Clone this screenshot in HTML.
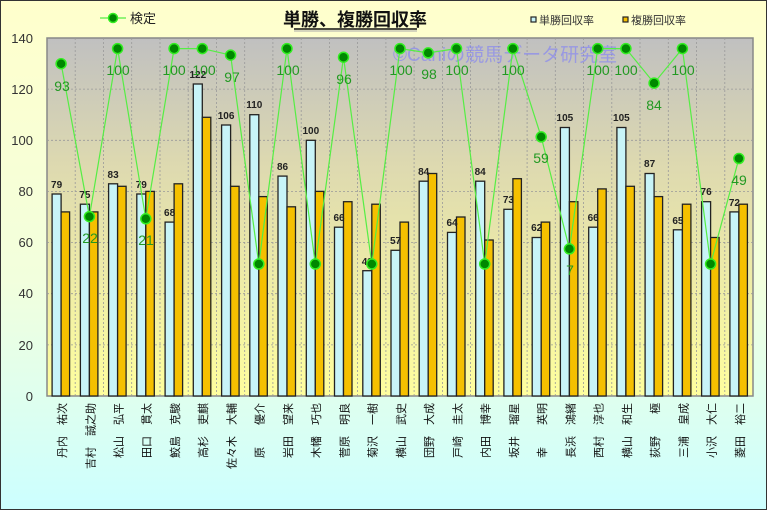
<!DOCTYPE html>
<html><head><meta charset="utf-8"><style>
html,body{margin:0;padding:0;width:767px;height:510px;overflow:hidden}
svg{display:block;font-family:"Liberation Sans","Noto Sans CJK JP",sans-serif}
</style></head><body>
<svg width="767" height="510" viewBox="0 0 767 510" xmlns="http://www.w3.org/2000/svg">
<defs>
<linearGradient id="bg" x1="0" y1="0" x2="0" y2="1"><stop offset="0" stop-color="#ffffcc"/><stop offset="0.55" stop-color="#f2ffdd"/><stop offset="1" stop-color="#ccffff"/></linearGradient>
<linearGradient id="pa" x1="0" y1="0" x2="0" y2="1"><stop offset="0" stop-color="#c0c0c0"/><stop offset="0.35" stop-color="#ddd9b0"/><stop offset="1" stop-color="#ffff9e"/></linearGradient>
</defs>
<rect x="0.5" y="0.5" width="766" height="509" fill="url(#bg)" stroke="#333" stroke-width="1"/>
<rect x="47" y="38" width="706" height="358" fill="url(#pa)" stroke="#888" stroke-width="1.5"/>
<g stroke="#999" stroke-width="0.8" stroke-dasharray="2,2">
<line x1="47" y1="89.1" x2="753" y2="89.1"/><line x1="47" y1="140.3" x2="753" y2="140.3"/><line x1="47" y1="191.4" x2="753" y2="191.4"/><line x1="47" y1="242.6" x2="753" y2="242.6"/><line x1="47" y1="293.7" x2="753" y2="293.7"/><line x1="47" y1="344.9" x2="753" y2="344.9"/>
<line x1="75.2" y1="38" x2="75.2" y2="396"/><line x1="103.5" y1="38" x2="103.5" y2="396"/><line x1="131.7" y1="38" x2="131.7" y2="396"/><line x1="160" y1="38" x2="160" y2="396"/><line x1="188.2" y1="38" x2="188.2" y2="396"/><line x1="216.4" y1="38" x2="216.4" y2="396"/><line x1="244.7" y1="38" x2="244.7" y2="396"/><line x1="272.9" y1="38" x2="272.9" y2="396"/><line x1="301.2" y1="38" x2="301.2" y2="396"/><line x1="329.4" y1="38" x2="329.4" y2="396"/><line x1="357.6" y1="38" x2="357.6" y2="396"/><line x1="385.9" y1="38" x2="385.9" y2="396"/><line x1="414.1" y1="38" x2="414.1" y2="396"/><line x1="442.4" y1="38" x2="442.4" y2="396"/><line x1="470.6" y1="38" x2="470.6" y2="396"/><line x1="498.8" y1="38" x2="498.8" y2="396"/><line x1="527.1" y1="38" x2="527.1" y2="396"/><line x1="555.3" y1="38" x2="555.3" y2="396"/><line x1="583.6" y1="38" x2="583.6" y2="396"/><line x1="611.8" y1="38" x2="611.8" y2="396"/><line x1="640" y1="38" x2="640" y2="396"/><line x1="668.3" y1="38" x2="668.3" y2="396"/><line x1="696.5" y1="38" x2="696.5" y2="396"/><line x1="724.8" y1="38" x2="724.8" y2="396"/>
</g>
<g font-size="13" fill="#333" text-anchor="end">
<text x="33" y="43">140</text><text x="33" y="94">120</text><text x="33" y="145">100</text><text x="33" y="196">80</text><text x="33" y="247">60</text><text x="33" y="298">40</text><text x="33" y="350">20</text><text x="33" y="401">0</text>
</g>
<text x="393" y="61" font-size="19" fill="#7777ff" fill-opacity="0.55">©Caniの競馬データ研究室</text>
<g stroke="#222" stroke-width="1.3" fill="#c8f4f8">
<rect x="52.1" y="194" width="9" height="202"/><rect x="80.4" y="204.2" width="9" height="191.8"/><rect x="108.6" y="183.8" width="9" height="212.2"/><rect x="136.8" y="194" width="9" height="202"/><rect x="165.1" y="222.1" width="9" height="173.9"/><rect x="193.3" y="84" width="9" height="312"/><rect x="221.6" y="125" width="9" height="271"/><rect x="249.8" y="114.7" width="9" height="281.3"/><rect x="278" y="176.1" width="9" height="219.9"/><rect x="306.3" y="140.3" width="9" height="255.7"/><rect x="334.5" y="227.2" width="9" height="168.8"/><rect x="362.8" y="270.7" width="9" height="125.3"/><rect x="391" y="250.3" width="9" height="145.7"/><rect x="419.2" y="181.2" width="9" height="214.8"/><rect x="447.5" y="232.4" width="9" height="163.6"/><rect x="475.7" y="181.2" width="9" height="214.8"/><rect x="503.9" y="209.3" width="9" height="186.7"/><rect x="532.2" y="237.5" width="9" height="158.5"/><rect x="560.4" y="127.5" width="9" height="268.5"/><rect x="588.7" y="227.2" width="9" height="168.8"/><rect x="616.9" y="127.5" width="9" height="268.5"/><rect x="645.1" y="173.5" width="9" height="222.5"/><rect x="673.4" y="229.8" width="9" height="166.2"/><rect x="701.6" y="201.7" width="9" height="194.3"/><rect x="729.9" y="211.9" width="9" height="184.1"/>
</g>
<g stroke="#222" stroke-width="1.3" fill="#f5c000">
<rect x="61.1" y="211.9" width="8.5" height="184.1"/><rect x="89.4" y="211.9" width="8.5" height="184.1"/><rect x="117.6" y="186.3" width="8.5" height="209.7"/><rect x="145.8" y="191.4" width="8.5" height="204.6"/><rect x="174.1" y="183.8" width="8.5" height="212.2"/><rect x="202.3" y="117.3" width="8.5" height="278.7"/><rect x="230.6" y="186.3" width="8.5" height="209.7"/><rect x="258.8" y="196.6" width="8.5" height="199.4"/><rect x="287" y="206.8" width="8.5" height="189.2"/><rect x="315.3" y="191.4" width="8.5" height="204.6"/><rect x="343.5" y="201.7" width="8.5" height="194.3"/><rect x="371.8" y="204.2" width="8.5" height="191.8"/><rect x="400" y="222.1" width="8.5" height="173.9"/><rect x="428.2" y="173.5" width="8.5" height="222.5"/><rect x="456.5" y="217" width="8.5" height="179"/><rect x="484.7" y="240" width="8.5" height="156"/><rect x="512.9" y="178.7" width="8.5" height="217.3"/><rect x="541.2" y="222.1" width="8.5" height="173.9"/><rect x="569.4" y="201.7" width="8.5" height="194.3"/><rect x="597.7" y="188.9" width="8.5" height="207.1"/><rect x="625.9" y="186.3" width="8.5" height="209.7"/><rect x="654.1" y="196.6" width="8.5" height="199.4"/><rect x="682.4" y="204.2" width="8.5" height="191.8"/><rect x="710.6" y="237.5" width="8.5" height="158.5"/><rect x="738.9" y="204.2" width="8.5" height="191.8"/>
</g>
<g font-size="10" font-weight="bold" fill="#222" text-anchor="middle">
<text x="56.6" y="188">79</text><text x="84.9" y="198">75</text><text x="113.1" y="178">83</text><text x="141.3" y="188">79</text><text x="169.6" y="216">68</text><text x="197.8" y="78">122</text><text x="226.1" y="119">106</text><text x="254.3" y="108">110</text><text x="282.5" y="170">86</text><text x="310.8" y="134">100</text><text x="339" y="221">66</text><text x="367.3" y="265">49</text><text x="395.5" y="244">57</text><text x="423.7" y="175">84</text><text x="452" y="226">64</text><text x="480.2" y="175">84</text><text x="508.4" y="203">73</text><text x="536.7" y="231">62</text><text x="564.9" y="121">105</text><text x="593.2" y="221">66</text><text x="621.4" y="121">105</text><text x="649.6" y="167">87</text><text x="677.9" y="224">65</text><text x="706.1" y="195">76</text><text x="734.4" y="206">72</text>
</g>
<polyline fill="none" stroke="#55ee44" stroke-width="1.2" points="61.1,63.7 89.4,216.6 117.6,48.6 145.8,218.8 174.1,48.6 202.3,48.6 230.6,55.1 258.8,264 287,48.6 315.3,264 343.5,57.2 371.8,264 400,48.6 428.2,52.9 456.5,48.6 484.7,264 512.9,48.6 541.2,136.9 569.4,248.9 597.7,48.6 625.9,48.6 654.1,83.1 682.4,48.6 710.6,264 738.9,158.5"/>
<g fill="#008800" stroke="#33ee22" stroke-width="1.5">
<circle cx="61.1" cy="63.7" r="5"/><circle cx="89.4" cy="216.6" r="5"/><circle cx="117.6" cy="48.6" r="5"/><circle cx="145.8" cy="218.8" r="5"/><circle cx="174.1" cy="48.6" r="5"/><circle cx="202.3" cy="48.6" r="5"/><circle cx="230.6" cy="55.1" r="5"/><circle cx="258.8" cy="264" r="5"/><circle cx="287" cy="48.6" r="5"/><circle cx="315.3" cy="264" r="5"/><circle cx="343.5" cy="57.2" r="5"/><circle cx="371.8" cy="264" r="5"/><circle cx="400" cy="48.6" r="5"/><circle cx="428.2" cy="52.9" r="5"/><circle cx="456.5" cy="48.6" r="5"/><circle cx="484.7" cy="264" r="5"/><circle cx="512.9" cy="48.6" r="5"/><circle cx="541.2" cy="136.9" r="5"/><circle cx="569.4" cy="248.9" r="5"/><circle cx="597.7" cy="48.6" r="5"/><circle cx="625.9" cy="48.6" r="5"/><circle cx="654.1" cy="83.1" r="5"/><circle cx="682.4" cy="48.6" r="5"/><circle cx="710.6" cy="264" r="5"/><circle cx="738.9" cy="158.5" r="5"/>
</g>
<g font-size="14" fill="#229922" text-anchor="middle">
<text x="62" y="91">93</text><text x="90" y="243">22</text><text x="118" y="75">100</text><text x="146" y="245">21</text><text x="174" y="75">100</text><text x="204" y="75">100</text><text x="232" y="82">97</text><text x="288" y="75">100</text><text x="344" y="84">96</text><text x="401" y="75">100</text><text x="429" y="79">98</text><text x="457" y="75">100</text><text x="513" y="75">100</text><text x="541" y="163">59</text><text x="570" y="275">7</text><text x="598" y="75">100</text><text x="626" y="75">100</text><text x="654" y="110">84</text><text x="683" y="75">100</text><text x="739" y="185">49</text>
</g>
<g font-size="11" fill="#111" text-anchor="end">
<text transform="translate(66,403) rotate(-90)">丹内　祐次</text>
<text transform="translate(94.3,403) rotate(-90)">吉村　誠之助</text>
<text transform="translate(122.5,403) rotate(-90)">松山　弘平</text>
<text transform="translate(150.7,403) rotate(-90)">田口　貫太</text>
<text transform="translate(179,403) rotate(-90)">鮫島　克駿</text>
<text transform="translate(207.2,403) rotate(-90)">高杉　吏麒</text>
<text transform="translate(235.5,403) rotate(-90)">佐々木　大輔</text>
<text transform="translate(263.7,403) rotate(-90)">原　　優介</text>
<text transform="translate(291.9,403) rotate(-90)">岩田　望来</text>
<text transform="translate(320.2,403) rotate(-90)">木幡　巧也</text>
<text transform="translate(348.4,403) rotate(-90)">菅原　明良</text>
<text transform="translate(376.7,403) rotate(-90)">菊沢　一樹</text>
<text transform="translate(404.9,403) rotate(-90)">横山　武史</text>
<text transform="translate(433.1,403) rotate(-90)">団野　大成</text>
<text transform="translate(461.4,403) rotate(-90)">戸崎　圭太</text>
<text transform="translate(489.6,403) rotate(-90)">内田　博幸</text>
<text transform="translate(517.8,403) rotate(-90)">坂井　瑠星</text>
<text transform="translate(546.1,403) rotate(-90)">幸　　英明</text>
<text transform="translate(574.3,403) rotate(-90)">長浜　鴻緒</text>
<text transform="translate(602.6,403) rotate(-90)">西村　淳也</text>
<text transform="translate(630.8,403) rotate(-90)">横山　和生</text>
<text transform="translate(659,403) rotate(-90)">荻野　　極</text>
<text transform="translate(687.3,403) rotate(-90)">三浦　皇成</text>
<text transform="translate(715.5,403) rotate(-90)">小沢　大仁</text>
<text transform="translate(743.8,403) rotate(-90)">菱田　裕二</text>
</g>
<line x1="100" y1="18" x2="126" y2="18" stroke="#55ee44" stroke-width="1.2"/>
<circle cx="113" cy="18" r="4.5" fill="#008800" stroke="#33ee22" stroke-width="1.5"/>
<text x="130" y="23" font-size="13" fill="#222">検定</text>
<text x="355" y="26" font-size="18" font-weight="bold" fill="#111" text-anchor="middle">単勝、複勝回収率</text>
<line x1="294" y1="29" x2="417" y2="29" stroke="#111" stroke-width="1.5"/>
<line x1="294" y1="31" x2="417" y2="31" stroke="#aaa" stroke-width="1"/>
<rect x="531" y="17" width="5" height="5" fill="#c8f4f8" stroke="#222" stroke-width="1.2"/>
<text x="539" y="24" font-size="11" fill="#333">単勝回収率</text>
<rect x="623" y="17" width="5" height="5" fill="#f5c000" stroke="#222" stroke-width="1.2"/>
<text x="631" y="24" font-size="11" fill="#333">複勝回収率</text>
</svg>
</body></html>
